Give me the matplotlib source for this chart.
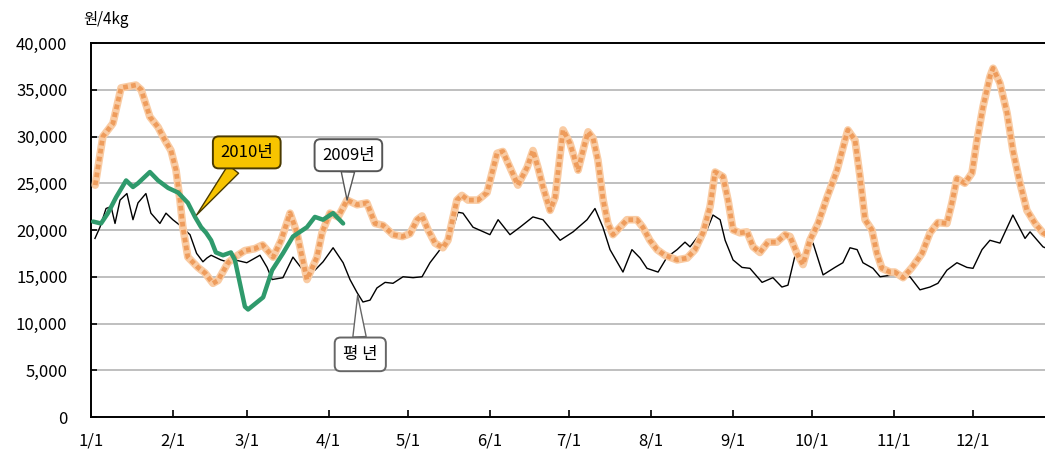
import matplotlib.pyplot as plt
import numpy as np

plt.rcParams['font.family'] = ['Noto Sans CJK KR', 'DejaVu Sans']

# day of year for tick positions
tick_days = [0, 31, 59, 90, 120, 151, 181, 212, 243, 273, 304, 334]
tick_labels = ['1/1', '2/1', '3/1', '4/1', '5/1', '6/1', '7/1', '8/1', '9/1', '10/1', '11/1', '12/1']

# 2009년 (orange)
days_2009 = [1.6, 4.5, 8.3, 11.4, 17, 19, 22.3, 25.4, 28, 30.3, 32.2, 33.7, 34.8, 36.7, 40.5, 43.2, 46.2, 48.1,
             51.9, 54.5, 58.3, 62, 65, 69, 72, 75.4, 78, 81.8, 85.6, 87.5, 90.5, 93.6, 97, 100.8, 104.5, 107.6,
             110.6, 114.4, 118, 120.8, 123.5, 125.4, 127.7, 130.3, 133.3, 135.2, 138.6, 140.5, 142.8, 146.6, 150,
             153.8, 156, 158.7, 161.7, 165.2, 167.4, 169.3, 171.2, 173.9, 175.8, 178.8, 181.4, 184.5, 187.1, 188.3,
             190.2, 192, 194, 195.8, 197.7, 200.4, 203, 206.8, 209, 211.7, 214.4, 217.4, 222, 225.8, 228.8, 231.8,
             234.5, 236.4, 239.4, 241.3, 243.2, 245.8, 248.5, 250.8, 253.4, 256.4, 259.8, 262.9, 264.8, 267.4,
             269.7, 272.3, 275.4, 278.8, 282.6, 285.6, 286.7, 289.4, 291.3, 293.2, 295.8, 297.7, 299.6, 302.7,
             304.5, 307.6, 311, 314.8, 317.8, 320.8, 324.2, 326.1, 328, 331, 333.7, 335.6, 337.9, 340.5, 341.7,
             344.3, 347, 349.2, 351.9, 354.5, 357.6, 360.6, 364]
price_2009 = [24800, 30000, 31400, 35200, 35500, 35000, 32100, 31000, 29600, 28500, 26400, 23200, 20300, 17100,
              16000, 15400, 14300, 14600, 16500, 17100, 17800, 18000, 18400, 17100, 18900, 21800, 19700, 14700,
              17100, 19700, 21800, 21400, 23200, 22700, 22900, 20700, 20500, 19500, 19300, 19600, 21100, 21500,
              20000, 18600, 18100, 18900, 23200, 23700, 23200, 23200, 24000, 28200, 28400, 26700, 24800, 26700,
              28500, 26700, 24600, 22100, 23500, 30700, 29300, 26400, 29300, 30500, 29800, 27500, 23200, 20700,
              19500, 20300, 21100, 21100, 20300, 18900, 17900, 17300, 16800, 17000, 17900, 19700, 22500, 26200,
              25700, 23200, 20000, 19700, 19800, 18200, 17600, 18700, 18700, 19500, 19300, 17500, 16300, 18900,
              20700, 23500, 26400, 29600, 30700, 29600, 25700, 21100, 20000, 17500, 15900, 15500, 15500, 14900,
              16000, 17500, 19700, 20800, 20700, 22900, 25500, 25000, 26100, 29600, 33200, 36400, 37300, 35700,
              32500, 28500, 25000, 22100, 20700, 19700, 19200]

# 평년 (black)
days_avg = [1.5, 3.4, 5.7, 7.6, 9.1, 11, 13.6, 15.9, 17.8, 20.8, 22.7, 26.1, 28.4, 31, 33.7, 37.5, 40, 42.4, 43.9,
            45.5, 49.2, 51.5, 54.5, 59, 64, 66.7, 68.6, 72.7, 76.5, 80.3, 84.8, 87.9, 91.7, 95.5, 98.1, 100.8, 103,
            105.7, 108.3, 111.4, 114.4, 118.2, 122, 125.4, 128.4, 132.2, 136, 139, 140.9, 144.7, 151.1, 154.2,
            158.7, 162.5, 167.4, 171.2, 177.7, 182.6, 187.9, 190.9, 193.9, 196.6, 201.5, 204.9, 208, 210.6, 214.8,
            218.2, 222, 225, 226.9, 229.9, 233.3, 235.6, 238.3, 240.2, 243.2, 246.6, 249.6, 254.2, 258.3, 261.7,
            264, 266.7, 269.7, 273.5, 277.3, 281.8, 284.8, 287.5, 290.2, 292.4, 296.2, 298.9, 303.8, 310.2, 314,
            317.8, 320.8, 324.2, 328, 331.8, 334.1, 337.5, 340.5, 344.3, 349.2, 353.8, 355.7, 360.6, 364]
price_avg = [19100, 20300, 22300, 22500, 20700, 23200, 23900, 21100, 22900, 23900, 21800, 20700, 21800, 21100,
             20500, 19500, 17500, 16600, 17000, 17300, 16800, 16600, 16800, 16500, 17300, 16000, 14700, 14900,
             17100, 15700, 15700, 16600, 18100, 16500, 14700, 13300, 12300, 12500, 13800, 14400, 14300, 15000,
             14900, 15000, 16500, 17900, 19100, 21900, 21800, 20300, 19500, 21100, 19500, 20300, 21400, 21100,
             18900, 19800, 21100, 22300, 20300, 17900, 15500, 17900, 17000, 15900, 15500, 17100, 17900, 18700,
             18200, 19300, 20000, 21600, 21100, 18900, 16800, 16000, 15900, 14400, 14900, 13900, 14100, 17300,
             17300, 18600, 15200, 16000, 16500, 18100, 17900, 16500, 15900, 15000, 15200, 15000, 13600, 13900,
             14300, 15700, 16500, 16000, 15900, 17900, 18900, 18600, 21600, 19100, 19800, 18200, 17800]

# 2010년 (green)
days_2010 = [0.8, 3.8, 6.4, 9.5, 13.3, 15.9, 17.8, 22.3, 25.4, 29.2, 33, 36.7, 39.4, 41.7, 43.6, 45.5, 47.3, 50,
             53, 54.5, 56.4, 58.3, 59.5, 65.2, 68.6, 72.7, 76.5, 81.8, 84.8, 87.9, 91.7, 95.5]
price_2010 = [20900, 20700, 21800, 23500, 25300, 24600, 25000, 26200, 25300, 24500, 24000, 22900, 21400, 20300,
              19700, 18900, 17600, 17300, 17600, 16800, 14300, 11800, 11500, 12800, 15700, 17500, 19300, 20300,
              21400, 21100, 21800, 20700]

#
fig = plt.figure(figsize=(10.45, 4.54), dpi=100)
ax = fig.add_axes([91/1045, 37/454, 963.6/1045, 374/454])

ax.plot(days_avg, price_avg, color='black', linewidth=1.0, zorder=3)
ax.plot(days_2009, price_2009, color='#f9cba3', linewidth=5.5, solid_capstyle='round', zorder=4)
ax.plot(days_2009, price_2009, color='#ee9c5c', linewidth=3.4, linestyle=(0, (1, 0.7)), zorder=5)
ax.plot(days_2010, price_2010, color='#2f9a6c', linewidth=3.2, solid_capstyle='round', zorder=6)

ax.set_xlim(0, 365)
ax.set_ylim(0, 40000)
ax.set_xticks(tick_days)
ax.set_xticklabels(tick_labels)
ax.set_yticks(np.arange(0, 40001, 5000))
ax.set_yticklabels([f'{v:,}' for v in range(0, 40001, 5000)])
ax.tick_params(axis='x', direction='in', length=5, width=1.2, pad=11, labelsize=12)
ax.tick_params(axis='y', direction='in', length=4, width=1.2, pad=17, labelsize=12)

ax.grid(axis='y', color='#b4b4b4', linewidth=1.2)
ax.set_axisbelow(True)
for side in ['left', 'bottom', 'top']:
    ax.spines[side].set_linewidth(1.4)
ax.spines['right'].set_visible(False)

fig.text(83/1045, 1 - 20/454, '원/4kg', fontsize=11, ha='left', va='center')

# callouts
ax.annotate(
    '2010년', xy=(40, 21600), xytext=(59, 28300),
    fontsize=12, ha='center', va='center', zorder=10,
    bbox=dict(boxstyle='round,pad=0.45,rounding_size=0.35', fc='#f7c400', ec='#4a3a00', lw=1.4),
    arrowprops=dict(arrowstyle='wedge,tail_width=0.8,shrink_factor=0.5', fc='#f7c400', ec='#4a3a00', lw=1.0,
                    shrinkA=0, shrinkB=0),
)
ax.annotate(
    '2009년', xy=(97, 23200), xytext=(97.5, 28000),
    fontsize=12, ha='center', va='center', zorder=10,
    bbox=dict(boxstyle='round,pad=0.45,rounding_size=0.35', fc='white', ec='#555555', lw=1.4),
    arrowprops=dict(arrowstyle='wedge,tail_width=0.8,shrink_factor=0.5', fc='white', ec='#555555', lw=1.0,
                    shrinkA=0, shrinkB=0),
)
ax.annotate(
    '평 년', xy=(101, 13000), xytext=(102, 6700),
    fontsize=12, ha='center', va='center', zorder=10,
    bbox=dict(boxstyle='round,pad=0.5,rounding_size=0.35', fc='white', ec='#666666', lw=1.4),
    arrowprops=dict(arrowstyle='wedge,tail_width=0.8,shrink_factor=0.5', fc='white', ec='#666666', lw=1.0,
                    shrinkA=0, shrinkB=0),
)

plt.savefig('out.png', dpi=100)
